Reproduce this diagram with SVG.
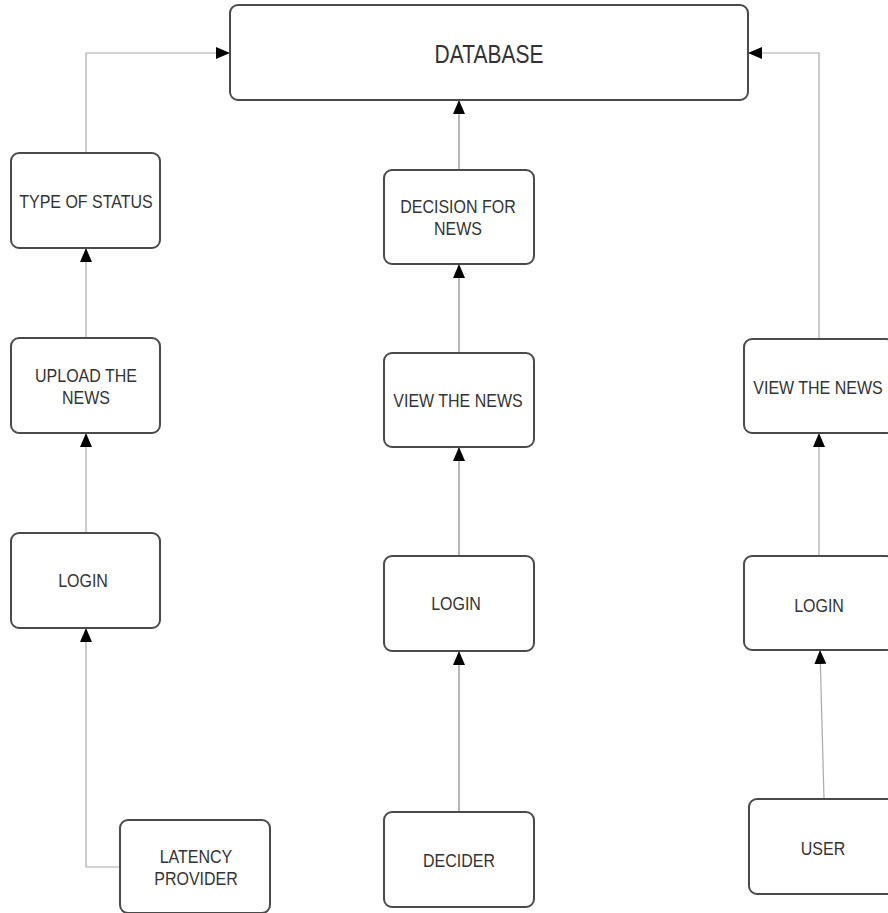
<svg xmlns="http://www.w3.org/2000/svg" width="888" height="913" viewBox="0 0 888 913">
<style>
.box{fill:#fff;stroke:#4a4a4a;stroke-width:2}
.t{font-family:"Liberation Sans",Arial,sans-serif;font-size:16px;fill:#333;text-anchor:middle}
.big{font-size:21px}
.c{fill:none;stroke:#aaa;stroke-width:1.2;marker-end:url(#ah)}
.cm{stroke:#888}
</style>
<defs>
<marker id="ah" markerUnits="userSpaceOnUse" markerWidth="14" markerHeight="12" refX="14" refY="6" orient="auto">
<path d="M0,0 L14,6 L0,12 z" fill="#000"/>
</marker>
</defs>
<rect width="888" height="913" fill="#fff"/>
<g id="connectors">
<path class="c" d="M86,152 V53 H230"/>
<path class="c" d="M86,338 V248"/>
<path class="c" d="M86,533 V433"/>
<path class="c" d="M120,867 H86 V628"/>
<path class="c cm" d="M459,170 V100"/>
<path class="c cm" d="M459,353 V264"/>
<path class="c cm" d="M459,556 V447"/>
<path class="c cm" d="M459,812 V651"/>
<path class="c" d="M819,339 V53 H748"/>
<path class="c" d="M819,556 V433"/>
<path class="c" d="M824,799 L820,650"/>
</g>
<g id="database">
<rect class="box" x="230" y="5" width="518" height="95" rx="8"/>
<text class="t big" transform="translate(489,63) scale(1,1.2)">DATABASE</text>
</g>
<g id="type-of-status">
<rect class="box" x="11" y="153" width="149" height="95" rx="8"/>
<text class="t" transform="translate(86,208) scale(1,1.2)">TYPE OF STATUS</text>
</g>
<g id="upload-news">
<rect class="box" x="11" y="338" width="149" height="95" rx="8"/>
<text class="t" transform="translate(86,382) scale(1,1.2)">UPLOAD THE</text>
<text class="t" transform="translate(86,404) scale(1,1.2)">NEWS</text>
</g>
<g id="login-left">
<rect class="box" x="11" y="533" width="149" height="95" rx="8"/>
<text class="t" transform="translate(83,587) scale(1,1.2)">LOGIN</text>
</g>
<g id="latency-provider">
<rect class="box" x="120" y="820" width="150" height="93" rx="8"/>
<text class="t" transform="translate(196,863) scale(1,1.2)">LATENCY</text>
<text class="t" transform="translate(196,885) scale(1,1.2)">PROVIDER</text>
</g>
<g id="decision-for-news">
<rect class="box" x="384" y="170" width="150" height="94" rx="8"/>
<text class="t" transform="translate(458,213) scale(1,1.2)">DECISION FOR</text>
<text class="t" transform="translate(458,235) scale(1,1.2)">NEWS</text>
</g>
<g id="view-news-mid">
<rect class="box" x="384" y="353" width="150" height="94" rx="8"/>
<text class="t" transform="translate(458,407) scale(1,1.2)">VIEW THE NEWS</text>
</g>
<g id="login-mid">
<rect class="box" x="384" y="556" width="150" height="95" rx="8"/>
<text class="t" transform="translate(456,610) scale(1,1.2)">LOGIN</text>
</g>
<g id="decider">
<rect class="box" x="384" y="812" width="150" height="95" rx="8"/>
<text class="t" transform="translate(459,867) scale(1,1.2)">DECIDER</text>
</g>
<g id="view-news-right">
<rect class="box" x="744" y="339" width="150" height="94" rx="8"/>
<text class="t" transform="translate(818,394) scale(1,1.2)">VIEW THE NEWS</text>
</g>
<g id="login-right">
<rect class="box" x="744" y="556" width="150" height="94" rx="8"/>
<text class="t" transform="translate(819,612) scale(1,1.2)">LOGIN</text>
</g>
<g id="user">
<rect class="box" x="749" y="799" width="150" height="95" rx="8"/>
<text class="t" transform="translate(823,855) scale(1,1.2)">USER</text>
</g>
</svg>
